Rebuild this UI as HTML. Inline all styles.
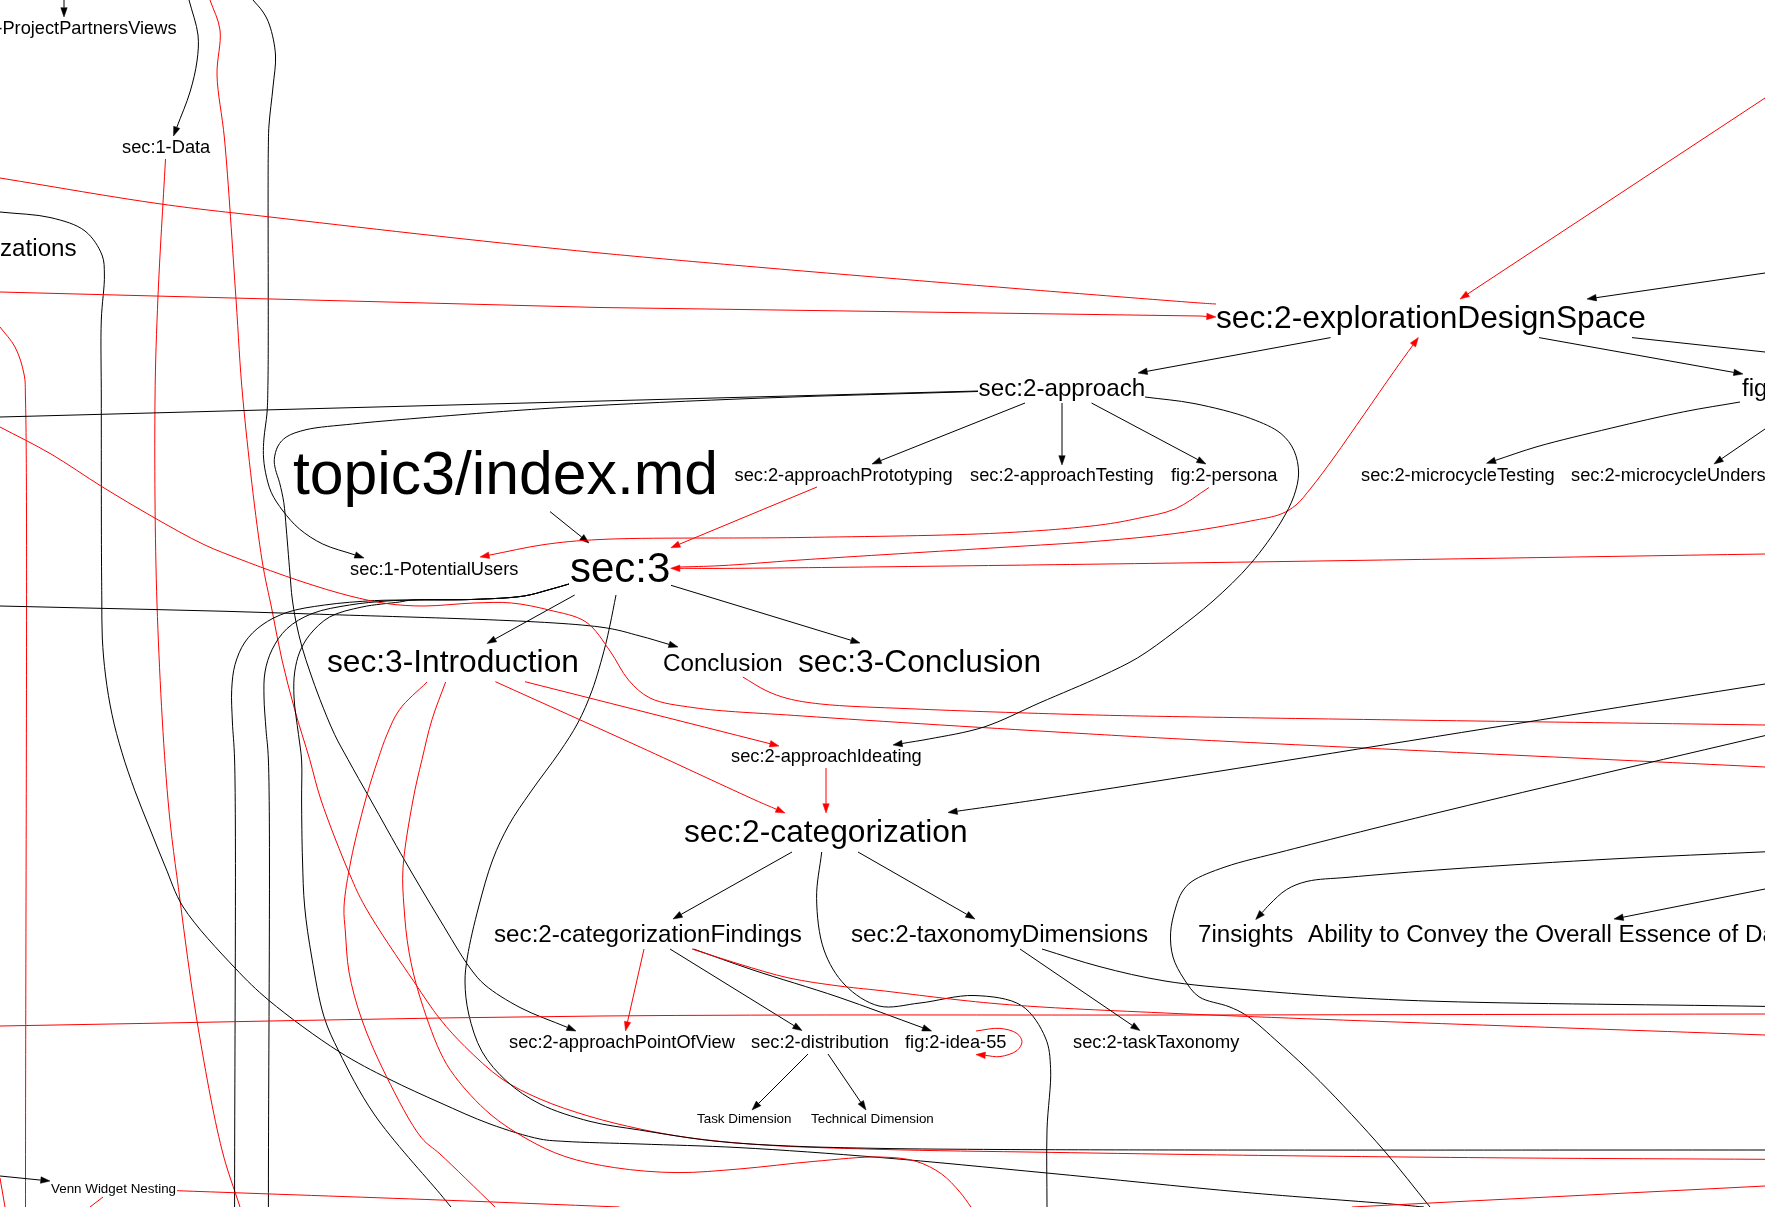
<!DOCTYPE html>
<html><head><meta charset="utf-8"><title>graph</title>
<style>html,body{margin:0;padding:0;background:#fff;overflow:hidden}svg{display:block;will-change:transform}text{font-family:"Liberation Sans", sans-serif;fill:#000}path{fill:none;stroke-width:1}</style></head><body>
<svg width="1765" height="1207" viewBox="0 0 1765 1207">
<polygon points="64.0,17.0 60.8,7.7 67.2,7.7" fill="#000" stroke="#000" stroke-width="0.5"/>
<path d="M64.0,0.0L64.0,7.7" stroke="#000"/>
<polygon points="173.5,136.0 173.7,126.2 179.8,128.4" fill="#000" stroke="#000" stroke-width="0.5"/>
<path d="M189.0,0.0C192.0,11.7 196.8,24.1 198.0,35.0C199.0,44.2 198.2,52.0 197.0,61.0C195.7,70.9 193.2,81.4 190.0,92.0C186.6,103.5 181.2,115.5 176.8,127.3" stroke="#000"/>
<path d="M210.0,0.0C213.3,10.0 218.6,18.8 220.0,30.0C221.7,43.3 216.6,58.7 217.0,75.0C217.5,94.5 222.0,112.8 224.5,139.0C228.4,180.3 232.7,251.8 236.0,299.0C238.6,336.5 239.5,362.5 243.0,400.0C247.4,447.3 255.9,521.8 262.0,560.0C265.4,581.5 268.7,593.3 272.0,610.0C275.3,626.7 278.2,643.4 282.0,660.0C285.8,676.6 290.1,693.1 294.7,709.6C299.3,726.3 305.1,743.7 309.7,759.5C313.8,773.7 315.9,784.6 321.0,800.0C328.1,821.3 341.5,855.4 350.0,875.0C355.6,888.0 358.2,894.4 365.3,907.0C376.5,927.0 400.1,961.3 414.0,981.8C423.9,996.4 431.1,1007.8 440.0,1019.0C448.1,1029.2 455.6,1037.3 465.0,1046.6C475.9,1057.3 489.0,1070.1 502.0,1079.0C514.1,1087.3 526.2,1093.0 540.0,1099.0C555.3,1105.7 573.2,1111.5 590.0,1116.5C606.6,1121.5 623.4,1125.4 640.0,1129.0C656.4,1132.5 670.9,1135.2 689.0,1137.7C711.3,1140.8 736.3,1143.1 764.0,1145.0C798.4,1147.3 837.8,1148.2 880.0,1149.4C930.6,1150.8 989.0,1151.4 1046.8,1152.3C1109.5,1153.3 1171.7,1154.3 1242.6,1155.2C1327.0,1156.3 1430.4,1157.3 1520.0,1158.0C1604.2,1158.6 1683.3,1158.9 1765.0,1159.3" stroke="#f00"/>
<polygon points="364.0,558.0 354.1,558.1 356.2,551.9" fill="#000" stroke="#000" stroke-width="0.5"/>
<path d="M253.0,0.0C256.3,4.0 260.2,7.7 263.0,12.0C265.7,16.1 267.7,19.6 269.5,25.0C272.2,32.8 274.9,44.8 275.5,55.0C276.1,65.5 274.0,75.9 273.0,87.0C271.9,99.1 269.8,113.6 269.0,125.0C268.4,134.2 268.5,137.5 268.3,150.0C267.7,188.0 268.7,337.9 268.0,380.0C267.7,396.0 267.8,402.8 267.0,413.0C266.3,421.9 264.6,430.5 264.0,438.0C263.5,444.1 263.2,448.9 263.4,454.6C263.6,460.5 264.3,466.7 265.6,472.8C266.9,479.3 268.6,486.4 271.4,492.7C274.3,499.1 278.5,505.1 283.0,511.0C287.8,517.2 293.1,523.6 299.5,529.0C306.3,534.7 314.0,539.8 322.7,544.0C332.4,548.7 344.4,551.3 355.2,555.0" stroke="#000"/>
<path d="M165.5,159.0C163.0,204.7 159.8,253.5 158.0,296.0C156.5,333.0 155.4,359.5 155.0,400.0C154.5,456.6 154.8,536.7 157.0,604.0C159.2,670.0 163.2,745.6 168.0,800.0C171.4,839.0 175.5,865.1 180.0,900.0C185.0,938.4 190.2,980.1 197.0,1021.0C204.1,1063.4 213.3,1115.9 222.0,1150.0C227.8,1173.0 234.0,1188.0 240.0,1207.0" stroke="#f00"/>
<path d="M0.0,178.0C53.7,186.7 112.5,197.2 161.0,204.0C200.8,209.6 223.8,211.7 270.0,217.0C350.3,226.2 473.6,240.8 600.0,253.0C770.2,269.4 1143.8,298.9 1200.0,303.0C1209.2,303.7 1210.7,303.7 1216.0,304.0" stroke="#f00"/>
<path d="M0.0,212.0C17.0,213.9 35.9,214.0 51.0,217.7C63.7,220.8 76.3,224.2 85.0,231.0C92.8,237.1 98.9,247.0 102.0,255.0C104.6,261.6 104.2,267.0 104.4,275.0C104.7,287.0 101.9,302.8 101.3,320.0C100.5,342.8 101.3,368.8 101.3,400.0C101.3,444.2 101.3,524.4 101.5,560.0C101.6,577.8 101.7,586.8 101.8,600.0C101.9,612.8 101.7,625.3 102.3,638.0C102.9,650.7 104.0,663.3 105.6,676.0C107.2,688.8 109.3,701.8 112.0,714.5C114.7,727.3 118.2,740.0 122.0,752.7C125.8,765.5 130.3,778.1 134.9,790.8C139.6,803.6 144.9,816.3 150.0,829.0C155.1,841.7 160.0,854.2 165.4,867.0C171.0,880.2 174.4,892.9 183.2,907.0C195.2,926.0 219.1,951.2 235.0,968.0C247.2,980.9 255.2,988.9 269.0,1000.5C287.8,1016.2 317.2,1037.8 339.0,1051.6C356.7,1062.8 372.1,1070.5 389.0,1079.0C405.8,1087.5 423.0,1095.1 440.0,1102.7C456.7,1110.1 473.2,1117.9 490.0,1124.0C506.5,1130.0 526.1,1136.3 540.0,1139.0C549.7,1140.9 554.4,1140.7 565.0,1141.4C583.3,1142.6 613.3,1143.1 640.0,1144.0C670.7,1145.1 703.1,1145.7 739.0,1147.6C781.9,1149.9 831.1,1153.5 880.0,1157.5C933.3,1161.8 989.0,1167.5 1046.8,1173.0C1109.5,1179.0 1182.2,1186.8 1242.6,1192.2C1294.5,1196.8 1355.3,1201.0 1387.6,1203.7C1403.8,1205.1 1411.9,1205.9 1424.0,1207.0" stroke="#000"/>
<polygon points="1216.0,317.0 1206.5,319.7 1206.9,313.2" fill="#f00" stroke="#f00" stroke-width="0.5"/>
<path d="M0.0,292.0L600.0,307.5L1200.0,316.0L1206.7,316.4" stroke="#f00"/>
<path d="M0.0,327.0C5.0,333.7 11.1,339.5 15.0,347.0C19.2,355.0 22.3,365.0 24.0,374.0C25.7,382.6 25.1,385.3 25.5,400.0C27.9,481.9 25.5,938.0 25.5,1207.0" stroke="#f00"/>
<path d="M978.0,391.0L0.0,417.0" stroke="#000"/>
<polygon points="576.0,1031.0 566.2,1030.4 568.7,1024.4" fill="#000" stroke="#000" stroke-width="0.5"/>
<path d="M978.0,391.5C906.7,393.7 834.5,395.3 764.0,398.0C695.2,400.7 621.6,403.9 560.0,407.6C508.9,410.7 458.2,414.9 420.0,418.0C393.5,420.2 373.0,421.8 352.6,424.0C335.6,425.8 318.1,426.8 306.0,429.7C297.9,431.7 291.2,433.7 286.3,437.0C282.6,439.5 280.0,442.4 278.0,446.0C275.9,449.8 274.6,455.3 274.3,459.5C274.0,463.1 274.7,466.0 275.5,469.5C276.4,473.6 278.3,477.8 279.6,482.7C281.1,488.6 282.7,495.5 283.8,502.6C285.0,510.7 285.4,518.8 286.3,529.0C287.5,543.0 289.3,566.5 290.4,579.0C291.0,586.5 291.2,590.5 292.0,597.0C293.0,604.7 294.3,613.7 296.0,622.0C297.7,630.4 299.7,638.7 302.0,647.0C304.3,655.4 307.1,663.5 310.0,672.0C313.1,681.0 316.2,689.9 320.0,699.6C324.3,710.6 329.6,723.9 334.6,734.5C338.9,743.6 342.9,750.2 348.0,759.5C354.5,771.4 362.3,785.1 370.7,800.0C381.0,818.3 393.4,840.9 405.0,861.0C416.5,880.9 428.7,901.4 440.0,920.0C450.3,936.9 461.3,956.3 470.0,968.0C475.5,975.4 478.5,979.4 485.0,985.0C493.9,992.6 507.1,1000.7 520.0,1007.5C534.3,1015.0 551.6,1020.8 567.4,1027.4" stroke="#000"/>
<polygon points="678.0,647.0 668.2,647.5 670.0,641.3" fill="#000" stroke="#000" stroke-width="0.5"/>
<path d="M0.0,606.0C100.0,608.5 200.0,610.1 300.0,613.6C400.0,617.1 546.7,619.9 600.0,627.0C619.7,629.6 627.8,632.9 640.0,636.0C650.5,638.7 659.4,641.6 669.1,644.4" stroke="#000"/>
<path d="M569.0,584.0C562.0,586.0 555.3,588.1 548.0,590.0C540.3,592.1 533.5,594.5 524.0,596.0C510.4,598.1 491.6,598.7 474.0,599.4C454.5,600.2 430.1,599.8 412.0,600.0C397.9,600.2 387.9,599.9 374.5,600.6C359.1,601.4 340.1,602.8 324.7,605.0C311.2,606.9 298.1,608.6 287.0,612.4C277.6,615.6 269.2,619.8 262.0,625.0C255.3,629.8 249.5,635.4 245.0,642.0C240.4,648.7 237.2,656.8 235.0,664.7C232.8,672.7 232.2,680.7 231.7,689.6C231.1,699.7 232.0,710.8 232.4,722.0C232.9,734.2 234.0,740.4 234.6,760.0C236.5,827.3 234.6,1058.0 234.6,1207.0" stroke="#000"/>
<path d="M569.0,584.0C562.0,586.0 555.3,588.1 548.0,590.0C540.3,592.1 533.5,594.5 524.0,596.0C510.4,598.1 491.6,598.7 474.0,599.4C454.5,600.2 428.1,599.6 412.0,600.0C401.8,600.3 396.2,600.3 387.0,601.0C375.8,601.8 362.0,602.9 349.6,605.0C337.0,607.1 323.0,609.2 312.0,613.6C302.5,617.4 293.8,622.3 287.0,628.6C280.6,634.5 275.7,642.3 272.0,649.8C268.5,656.9 266.3,664.3 265.0,672.0C263.6,680.0 263.9,688.1 264.0,697.0C264.1,707.1 265.3,718.8 266.0,729.5C266.7,739.8 267.8,743.9 268.4,760.0C270.8,821.7 268.4,1058.0 268.4,1207.0" stroke="#000"/>
<path d="M569.0,584.0C562.0,586.0 555.3,588.1 548.0,590.0C540.3,592.1 533.5,594.5 524.0,596.0C510.4,598.1 491.6,598.7 474.0,599.4C454.5,600.2 424.8,598.9 412.0,600.0C406.2,600.5 404.8,601.2 399.5,602.0C390.4,603.3 373.9,604.4 362.0,607.0C350.7,609.5 338.6,611.9 329.6,617.0C321.6,621.5 314.8,628.5 309.7,634.8C305.3,640.3 302.2,645.9 299.7,652.0C297.2,658.2 295.7,664.9 294.7,672.0C293.6,679.8 293.6,687.8 294.0,697.0C294.5,708.3 297.1,723.2 298.5,734.5C299.6,743.8 301.0,750.5 301.6,760.0C302.3,771.8 301.5,785.3 301.6,800.0C301.7,818.0 301.9,841.2 302.5,860.0C303.0,876.6 303.2,891.1 304.7,907.0C306.2,923.4 308.7,939.6 311.7,957.0C315.0,976.1 318.7,999.7 324.0,1016.7C328.2,1030.1 332.5,1038.5 339.0,1051.6C347.9,1069.6 359.3,1092.6 374.0,1114.0C391.6,1139.7 427.2,1178.3 440.0,1193.7C445.2,1200.0 447.3,1202.6 451.0,1207.0" stroke="#000"/>
<polygon points="487.0,643.5 493.6,636.2 496.7,641.8" fill="#000" stroke="#000" stroke-width="0.5"/>
<path d="M574.7,595.0L495.1,639.0" stroke="#000"/>
<path d="M616.0,595.0C614.0,605.0 612.0,615.8 610.0,625.0C608.3,632.9 607.2,638.5 605.0,647.0C601.8,659.1 596.9,677.3 592.0,690.6C587.7,702.3 583.3,712.7 577.8,723.0C572.4,733.1 566.6,741.7 559.6,752.0C551.2,764.4 539.4,779.2 530.6,792.0C522.7,803.4 515.3,813.4 509.0,824.8C502.7,836.1 497.4,847.2 492.6,860.0C487.2,874.4 482.8,891.0 478.6,907.0C474.3,923.3 469.6,943.1 467.4,957.0C465.9,966.7 464.9,973.2 465.0,982.0C465.1,992.0 466.2,1003.1 468.7,1014.0C471.5,1026.2 475.6,1040.3 482.0,1051.6C488.4,1062.8 497.4,1072.8 507.0,1081.5C516.7,1090.3 527.4,1097.6 540.0,1104.0C554.5,1111.3 573.2,1117.0 590.0,1121.4C606.4,1125.6 621.3,1127.1 639.5,1130.0C661.8,1133.6 689.1,1138.3 714.0,1141.0C738.9,1143.7 762.8,1144.8 789.0,1146.0C817.9,1147.3 847.6,1147.8 880.0,1148.4C917.2,1149.1 954.9,1149.2 1000.0,1149.5C1058.2,1149.8 1116.4,1149.9 1200.0,1150.0C1340.5,1150.2 1576.7,1150.0 1765.0,1150.0" stroke="#000"/>
<path d="M427.0,682.0C417.8,691.2 406.4,700.1 399.5,709.6C393.7,717.7 390.6,726.1 387.0,734.5C383.5,742.7 381.1,750.1 378.0,759.5C374.0,771.3 369.6,785.1 365.5,800.0C360.6,818.0 354.7,841.1 351.0,860.0C347.8,876.5 344.6,893.8 344.0,907.0C343.6,916.6 344.7,922.7 345.4,932.0C346.3,943.8 346.6,958.2 349.0,972.0C351.7,987.1 355.9,1002.8 361.6,1019.0C368.0,1037.5 376.9,1057.4 386.5,1076.6C396.7,1096.9 410.5,1124.4 421.4,1137.7C427.9,1145.6 432.3,1146.9 440.0,1154.0C453.6,1166.5 476.7,1189.3 495.0,1207.0" stroke="#f00"/>
<path d="M445.6,682.0C441.1,694.5 435.9,706.8 432.0,719.6C428.0,732.6 425.2,746.1 422.0,759.5C418.8,772.9 415.8,784.7 413.0,800.0C409.4,819.7 404.2,848.4 403.0,868.0C402.1,882.8 403.1,893.6 404.0,907.0C405.0,921.5 406.4,937.3 409.0,952.0C411.5,966.3 414.5,979.0 419.0,994.0C424.4,1011.8 432.9,1036.6 440.0,1051.6C444.9,1061.9 448.4,1067.8 455.0,1076.6C463.8,1088.3 477.5,1103.4 490.0,1114.0C501.6,1123.9 514.3,1131.8 527.0,1139.0C539.2,1145.9 551.0,1151.8 564.7,1156.4C579.9,1161.6 596.9,1164.9 614.5,1167.6C634.1,1170.6 656.2,1172.4 677.0,1172.6C697.7,1172.8 717.4,1170.7 739.0,1169.0C762.8,1167.1 789.8,1163.4 814.0,1161.4C836.7,1159.5 861.3,1156.5 880.0,1157.0C893.8,1157.4 905.3,1158.1 916.0,1161.3C925.5,1164.1 934.2,1168.7 941.6,1174.0C948.6,1179.0 954.7,1186.1 959.8,1192.0C964.2,1197.1 967.3,1202.0 971.0,1207.0" stroke="#f00"/>
<polygon points="785.0,813.0 775.2,812.3 777.8,806.3" fill="#f00" stroke="#f00" stroke-width="0.5"/>
<path d="M495.4,681.7C543.6,703.5 594.6,726.3 640.0,747.0C680.6,765.5 731.8,789.6 755.0,800.0C765.0,804.5 769.3,806.2 776.5,809.3" stroke="#f00"/>
<polygon points="779.0,746.0 769.2,746.9 770.8,740.6" fill="#f00" stroke="#f00" stroke-width="0.5"/>
<path d="M525.0,681.7C563.3,691.4 600.5,700.8 640.0,710.8C682.0,721.4 726.7,732.7 770.0,743.7" stroke="#f00"/>
<polygon points="589.0,543.0 579.7,539.7 583.8,534.6" fill="#000" stroke="#000" stroke-width="0.5"/>
<path d="M550.0,511.6L581.8,537.2" stroke="#000"/>
<polygon points="480.0,557.0 488.5,552.0 489.7,558.4" fill="#f00" stroke="#f00" stroke-width="0.5"/>
<path d="M1209.0,487.5C1197.7,494.7 1187.0,503.8 1175.0,509.0C1163.2,514.0 1150.2,515.7 1137.7,518.4C1125.2,521.1 1115.6,523.0 1100.0,525.0C1074.7,528.2 1039.1,531.0 1000.0,533.0C944.8,535.8 866.7,536.4 800.0,537.5C733.3,538.6 646.1,537.2 600.0,539.5C575.6,540.7 562.5,542.0 544.0,544.6C525.6,547.2 507.4,551.7 489.1,555.2" stroke="#f00"/>
<path d="M0.0,427.0C17.0,436.0 34.2,444.2 51.0,454.0C68.2,464.1 84.9,476.1 102.0,486.7C118.9,497.1 135.9,507.3 153.0,517.0C169.9,526.6 188.1,537.1 204.0,544.6C217.4,550.9 227.9,554.6 242.0,560.0C259.2,566.6 281.3,574.8 300.0,581.0C317.2,586.7 334.5,592.1 350.0,596.0C363.2,599.3 374.6,601.9 387.0,603.6C399.3,605.3 410.7,606.0 424.0,606.0C439.4,606.0 458.5,603.5 474.0,603.0C487.4,602.6 499.1,601.8 511.6,603.0C524.1,604.2 536.7,606.9 549.0,610.0C561.5,613.2 575.8,615.1 586.0,622.0C596.0,628.8 602.8,641.1 610.0,651.0C616.9,660.5 621.4,671.9 628.5,680.0C634.9,687.3 640.9,693.5 650.0,698.0C661.5,703.7 676.0,705.0 694.0,707.7C722.0,711.8 758.1,712.9 802.6,716.0C873.8,721.0 1006.6,729.1 1080.0,733.4C1128.3,736.2 1145.2,737.2 1200.0,740.0C1318.8,746.1 1576.7,758.0 1765.0,767.0" stroke="#f00"/>
<polygon points="872.0,464.0 879.4,457.5 881.8,463.6" fill="#000" stroke="#000" stroke-width="0.5"/>
<path d="M1025.0,403.0L880.6,460.6" stroke="#000"/>
<polygon points="1062.0,465.0 1058.8,455.7 1065.2,455.7" fill="#000" stroke="#000" stroke-width="0.5"/>
<path d="M1062.0,403.0L1062.0,455.7" stroke="#000"/>
<polygon points="1206.0,464.0 1196.3,462.5 1199.3,456.8" fill="#000" stroke="#000" stroke-width="0.5"/>
<path d="M1091.5,403.0L1197.8,459.6" stroke="#000"/>
<polygon points="670.8,547.8 678.1,541.2 680.6,547.2" fill="#f00" stroke="#f00" stroke-width="0.5"/>
<path d="M817.0,487.0L679.4,544.2" stroke="#f00"/>
<polygon points="1418.4,337.5 1415.6,346.9 1410.3,343.1" fill="#f00" stroke="#f00" stroke-width="0.5"/>
<path d="M679.0,567.0C692.7,566.6 704.1,566.5 720.0,565.7C742.3,564.6 767.3,562.2 800.0,560.0C851.7,556.5 944.8,551.0 1000.0,547.5C1039.1,545.0 1069.1,543.6 1100.0,541.0C1126.8,538.8 1150.0,536.8 1175.0,533.5C1200.2,530.2 1231.2,524.9 1250.7,521.0C1263.1,518.5 1272.9,517.3 1281.0,514.0C1287.1,511.5 1291.3,508.9 1296.0,505.0C1301.4,500.5 1305.6,494.6 1311.0,488.0C1317.9,479.5 1325.6,469.0 1333.6,458.0C1343.0,445.0 1353.7,429.2 1363.8,414.8C1373.9,400.4 1385.1,384.0 1394.0,371.4C1401.0,361.5 1406.6,353.8 1413.0,345.0" stroke="#f00"/>
<polygon points="670.6,568.3 679.9,565.1 679.9,571.6" fill="#f00" stroke="#f00" stroke-width="0.5"/>
<path d="M1765.0,554.0C1565.0,557.1 1350.1,560.7 1165.0,563.2C1005.6,565.4 788.5,568.1 720.0,568.4C699.4,568.5 693.3,568.3 679.9,568.3" stroke="#f00"/>
<polygon points="860.0,643.0 850.2,643.4 852.1,637.2" fill="#000" stroke="#000" stroke-width="0.5"/>
<path d="M671.0,585.3L851.1,640.3" stroke="#000"/>
<path d="M742.8,677.0C750.5,681.5 758.2,686.9 766.0,690.6C773.3,694.0 779.8,696.5 788.0,698.6C797.7,701.1 807.0,702.5 820.7,704.0C843.3,706.5 876.2,707.3 911.0,708.8C958.6,710.9 1028.5,713.2 1080.0,714.6C1123.4,715.8 1145.2,716.1 1200.0,717.0C1318.8,719.0 1576.7,722.3 1765.0,725.0" stroke="#f00"/>
<polygon points="893.0,745.0 901.6,740.3 902.7,746.7" fill="#000" stroke="#000" stroke-width="0.5"/>
<path d="M1145.0,397.0C1161.3,399.2 1177.2,400.2 1194.0,403.5C1212.3,407.1 1235.0,412.6 1250.7,418.5C1262.6,423.0 1273.5,427.4 1281.0,433.6C1287.0,438.5 1291.1,444.2 1294.0,450.6C1297.0,457.2 1298.6,465.5 1298.6,473.0C1298.6,480.6 1296.6,488.1 1294.0,495.8C1291.0,504.4 1286.7,512.5 1281.0,522.0C1273.4,534.6 1261.9,550.5 1250.7,563.6C1239.3,576.9 1225.9,589.5 1213.0,601.0C1200.6,612.0 1187.7,621.8 1175.0,631.4C1162.6,640.7 1150.3,650.2 1137.7,657.8C1125.8,664.9 1115.3,669.6 1101.6,676.0C1083.9,684.3 1060.0,694.0 1040.0,702.7C1020.9,711.0 1002.8,720.9 984.0,727.0C966.0,732.8 944.6,736.0 929.5,738.9C918.9,740.9 911.3,741.9 902.2,743.5" stroke="#000"/>
<polygon points="826.0,813.0 822.8,803.7 829.2,803.7" fill="#f00" stroke="#f00" stroke-width="0.5"/>
<path d="M826.0,768.0L826.0,803.7" stroke="#f00"/>
<polygon points="948.0,812.5 956.7,808.0 957.7,814.4" fill="#000" stroke="#000" stroke-width="0.5"/>
<path d="M1765.0,684.0C1523.3,722.4 1162.1,780.8 1040.0,799.3C998.8,805.5 984.8,807.2 957.2,811.2" stroke="#000"/>
<path d="M1765.0,735.6C1660.3,760.2 1538.8,788.2 1451.0,809.5C1387.3,824.9 1328.1,839.9 1286.5,850.6C1261.0,857.2 1242.1,861.0 1225.0,867.0C1212.1,871.5 1199.5,876.1 1192.0,881.4C1187.2,884.7 1184.7,887.8 1182.0,892.0C1179.1,896.6 1177.4,902.0 1175.6,908.0C1173.4,915.3 1171.0,924.6 1170.6,932.8C1170.2,940.9 1170.8,949.3 1173.0,957.0C1175.2,964.7 1179.6,972.3 1184.0,979.0C1188.3,985.5 1192.3,992.3 1199.0,996.8C1206.8,1002.0 1220.5,1003.2 1229.0,1006.7C1235.7,1009.5 1240.1,1011.2 1246.5,1015.5C1256.0,1021.8 1267.7,1032.9 1279.0,1043.0C1292.0,1054.6 1305.1,1066.5 1320.0,1081.5C1339.2,1100.8 1364.4,1127.9 1383.6,1150.0C1400.6,1169.6 1414.5,1188.0 1430.0,1207.0" stroke="#000"/>
<polygon points="673.0,919.0 679.5,911.6 682.7,917.3" fill="#000" stroke="#000" stroke-width="0.5"/>
<path d="M792.0,852.0L681.1,914.4" stroke="#000"/>
<polygon points="975.0,919.0 965.3,917.2 968.5,911.6" fill="#000" stroke="#000" stroke-width="0.5"/>
<path d="M858.0,852.0L966.9,914.4" stroke="#000"/>
<path d="M821.7,852.0C820.0,867.5 816.3,882.7 816.6,898.6C816.9,915.3 818.7,935.0 824.0,950.0C828.7,963.3 835.8,975.6 845.0,985.0C854.1,994.3 866.6,1003.0 879.0,1006.0C891.6,1009.1 905.4,1004.5 920.0,1003.0C936.8,1001.2 956.6,994.9 974.0,995.5C990.4,996.1 1009.6,997.9 1021.7,1005.7C1032.7,1012.8 1040.8,1026.8 1045.5,1038.0C1049.7,1047.9 1050.0,1056.6 1050.6,1068.6C1051.5,1085.5 1047.6,1108.4 1047.0,1130.0C1046.3,1154.2 1047.0,1181.3 1047.0,1207.0" stroke="#000"/>
<polygon points="625.5,1031.0 624.4,1021.2 630.7,1022.6" fill="#f00" stroke="#f00" stroke-width="0.5"/>
<path d="M644.0,949.0L627.5,1021.9" stroke="#f00"/>
<polygon points="802.0,1030.6 792.4,1028.5 795.8,1022.9" fill="#000" stroke="#000" stroke-width="0.5"/>
<path d="M670.0,949.0L794.1,1025.7" stroke="#000"/>
<polygon points="931.6,1031.0 921.7,1030.9 924.0,1024.8" fill="#000" stroke="#000" stroke-width="0.5"/>
<path d="M693.5,949.0C713.3,956.0 731.3,962.7 753.0,970.0C778.8,978.6 809.8,987.4 838.0,997.0C866.4,1006.7 894.6,1017.5 922.9,1027.8" stroke="#000"/>
<path d="M692.0,949.0C707.7,954.0 723.0,959.2 739.0,964.0C755.4,968.9 772.2,974.3 789.0,978.0C805.6,981.6 823.1,983.9 839.0,986.0C853.3,987.9 862.8,988.6 880.0,990.5C909.5,993.8 956.8,1000.4 1000.0,1004.0C1050.6,1008.2 1092.8,1009.7 1165.0,1013.0C1302.6,1019.3 1565.0,1027.7 1765.0,1035.0" stroke="#f00"/>
<path d="M0.0,1026.0C200.0,1022.7 400.0,1017.8 600.0,1016.0C800.0,1014.2 1003.0,1015.3 1200.0,1015.0C1391.2,1014.7 1576.7,1014.3 1765.0,1014.0" stroke="#f00"/>
<polygon points="1140.0,1030.6 1130.5,1028.1 1134.1,1022.7" fill="#000" stroke="#000" stroke-width="0.5"/>
<path d="M1020.0,949.0L1132.3,1025.4" stroke="#000"/>
<path d="M1042.0,949.0C1061.3,954.9 1080.0,961.5 1100.0,966.7C1120.9,972.2 1141.8,977.2 1165.0,981.0C1191.3,985.3 1217.6,987.2 1250.0,990.0C1292.9,993.7 1339.0,997.4 1400.0,1000.0C1495.0,1004.0 1643.3,1004.3 1765.0,1006.4" stroke="#000"/>
<polygon points="976.0,1054.6 985.5,1052.1 985.0,1058.6" fill="#f00" stroke="#f00" stroke-width="0.5"/>
<path d="M976.0,1031.0C984.0,1030.1 992.7,1027.7 1000.0,1028.4C1006.2,1029.0 1013.3,1030.7 1017.0,1033.5C1019.7,1035.6 1021.9,1038.8 1022.0,1041.6C1022.1,1044.5 1019.8,1048.2 1017.0,1050.5C1013.3,1053.6 1005.5,1055.9 1000.0,1056.6C995.0,1057.3 990.2,1055.8 985.3,1055.4" stroke="#f00"/>
<polygon points="752.0,1110.0 756.3,1101.1 760.9,1105.7" fill="#000" stroke="#000" stroke-width="0.5"/>
<path d="M808.0,1054.0L758.6,1103.4" stroke="#000"/>
<polygon points="866.0,1110.0 858.1,1104.1 863.5,1100.5" fill="#000" stroke="#000" stroke-width="0.5"/>
<path d="M828.0,1054.0L860.8,1102.3" stroke="#000"/>
<polygon points="1460.0,299.0 1466.0,291.2 1469.6,296.6" fill="#f00" stroke="#f00" stroke-width="0.5"/>
<path d="M1765.0,98.0L1467.8,293.9" stroke="#f00"/>
<polygon points="1587.0,299.0 1595.7,294.4 1596.7,300.9" fill="#000" stroke="#000" stroke-width="0.5"/>
<path d="M1765.0,273.0L1596.2,297.7" stroke="#000"/>
<polygon points="1138.0,373.0 1146.6,368.1 1147.7,374.5" fill="#000" stroke="#000" stroke-width="0.5"/>
<path d="M1330.6,337.6L1147.1,371.3" stroke="#000"/>
<polygon points="1743.0,374.0 1733.3,375.6 1734.4,369.2" fill="#000" stroke="#000" stroke-width="0.5"/>
<path d="M1539.0,337.6L1733.8,372.4" stroke="#000"/>
<path d="M1632.0,337.6L1765.0,352.0" stroke="#000"/>
<polygon points="1486.5,463.3 1494.3,457.3 1496.3,463.5" fill="#000" stroke="#000" stroke-width="0.5"/>
<path d="M1740.0,402.0C1721.2,405.3 1703.6,407.8 1683.7,411.8C1660.9,416.3 1635.1,422.4 1610.8,428.2C1586.5,434.0 1559.0,440.4 1538.0,446.4C1521.8,451.1 1509.6,455.7 1495.3,460.4" stroke="#000"/>
<polygon points="1714.0,464.0 1719.8,456.1 1723.5,461.4" fill="#000" stroke="#000" stroke-width="0.5"/>
<path d="M1765.0,429.0L1721.7,458.7" stroke="#000"/>
<polygon points="1255.7,919.6 1259.6,910.5 1264.4,914.9" fill="#000" stroke="#000" stroke-width="0.5"/>
<path d="M1765.0,851.8C1715.0,854.1 1666.1,856.0 1615.0,858.8C1561.5,861.7 1499.3,865.6 1451.0,869.0C1412.7,871.7 1374.6,874.9 1348.0,877.3C1331.2,878.8 1318.2,878.7 1307.0,881.4C1298.8,883.4 1292.7,885.8 1286.5,889.6C1280.3,893.4 1274.4,899.7 1270.0,904.0C1266.7,907.2 1264.7,909.8 1262.0,912.7" stroke="#000"/>
<polygon points="1614.0,919.0 1622.5,914.0 1623.8,920.4" fill="#000" stroke="#000" stroke-width="0.5"/>
<path d="M1765.0,889.0L1623.1,917.2" stroke="#000"/>
<path d="M1352.0,1207.0L1765.0,1186.0" stroke="#f00"/>
<polygon points="50.0,1181.0 40.4,1183.3 41.1,1176.8" fill="#000" stroke="#000" stroke-width="0.5"/>
<path d="M0.0,1176.0L40.7,1180.1" stroke="#000"/>
<path d="M177.0,1190.7C264.7,1193.8 360.7,1197.1 440.0,1200.0C505.5,1202.4 559.7,1204.7 619.5,1207.0" stroke="#f00"/>
<path d="M103.0,1197.0L90.0,1207.0" stroke="#f00"/>
<path d="M0.0,1178.0L5.0,1207.0" stroke="#f00"/>
<text x="-3.7" y="34" font-size="18.25">-ProjectPartnersViews</text>
<text x="122" y="153" font-size="18.25">sec:1-Data</text>
<text x="0" y="256" font-size="24.2">zations</text>
<text x="293" y="493.8" font-size="60.7">topic3/index.md</text>
<text x="734.5" y="480.8" font-size="18.25">sec:2-approachPrototyping</text>
<text x="970" y="480.8" font-size="18.25">sec:2-approachTesting</text>
<text x="1171" y="480.8" font-size="18.25">fig:2-persona</text>
<text x="1361" y="480.8" font-size="18.25">sec:2-microcycleTesting</text>
<text x="1571" y="480.8" font-size="18.25">sec:2-microcycleUnderstanding</text>
<text x="350" y="575" font-size="18.25">sec:1-PotentialUsers</text>
<text x="570" y="581.5" font-size="42">sec:3</text>
<text x="327" y="672" font-size="31.7">sec:3-Introduction</text>
<text x="663" y="671" font-size="24.2">Conclusion</text>
<text x="798" y="672" font-size="31.7">sec:3-Conclusion</text>
<text x="1216" y="328" font-size="31.7">sec:2-explorationDesignSpace</text>
<text x="978.6" y="396" font-size="24.2">sec:2-approach</text>
<text x="1742" y="396" font-size="24.2">fig:2-microcycle</text>
<text x="731" y="762" font-size="18.25">sec:2-approachIdeating</text>
<text x="684" y="842" font-size="31.7">sec:2-categorization</text>
<text x="494" y="942" font-size="24.2">sec:2-categorizationFindings</text>
<text x="851" y="942" font-size="24.2">sec:2-taxonomyDimensions</text>
<text x="1198" y="942" font-size="24.2">7insights</text>
<text x="1308" y="942" font-size="24.2">Ability to Convey the Overall Essence of Data</text>
<text x="509" y="1047.5" font-size="18.25">sec:2-approachPointOfView</text>
<text x="751" y="1047.5" font-size="18.25">sec:2-distribution</text>
<text x="905" y="1047.5" font-size="18.25">fig:2-idea-55</text>
<text x="1073" y="1047.5" font-size="18.25">sec:2-taskTaxonomy</text>
<text x="697" y="1123" font-size="13.4">Task Dimension</text>
<text x="811" y="1123" font-size="13.4">Technical Dimension</text>
<text x="51" y="1192.7" font-size="13.4">Venn Widget Nesting</text>
</svg></body></html>
